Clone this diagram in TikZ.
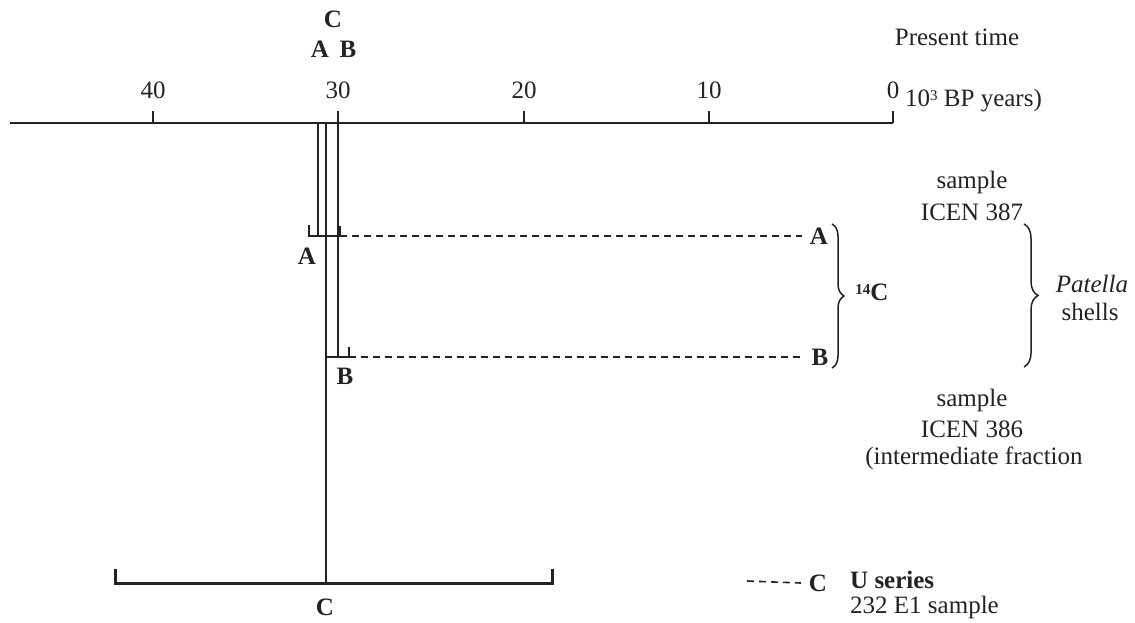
\documentclass[tikz,border=0pt]{standalone}
\usepackage{fontspec}
\setmainfont{Liberation Serif}
\usetikzlibrary{decorations.pathreplacing}
\definecolor{inkc}{RGB}{35,35,35}
\begin{document}
\begin{tikzpicture}[x=1pt,y=-1pt,
  ink/.style={draw=inkc, line width=1.8pt},
  heavy/.style={draw=inkc, line width=3pt},
  dashln/.style={draw=inkc, line width=1.6pt, dash pattern=on 7pt off 5pt},
  lbl/.style={text=inkc, font=\fontsize{25}{30}\selectfont, inner sep=0pt},
  blbl/.style={text=inkc, font=\fontsize{25}{30}\selectfont\bfseries, inner sep=0pt},
  ilbl/.style={text=inkc, font=\fontsize{25}{30}\selectfont\itshape, inner sep=0pt},
  bracestyle/.style={draw=inkc, line width=1.5pt, decorate, decoration={brace, amplitude=#1}},
  ]
\useasboundingbox[fill=white] (0,0) rectangle (1135,623);

% time axis
\coordinate (axL) at (10,123);
\coordinate (axR) at (893,123);
\draw[ink] (axL) -- (axR);
\foreach \v/\x in {40/153,30/338,20/524,10/709,0/893}{
  \coordinate (t\v) at (\x,123);
  \coordinate (tt\v) at (\x,111);
  \draw[ink] (t\v) -- (tt\v);
  \node[lbl] (n\v) at (\x,90) {\v};
}
\node[lbl, anchor=west] (unit) at (905,101) {10{\fontsize{15}{18}\selectfont\raisebox{6pt}{3}} BP years)};
\node[lbl] (present) at (957,37) {Present time};

% top labels
\node[blbl] (topC) at (333,19) {C};
\node[blbl] (topA) at (320,49) {A};
\node[blbl] (topB) at (348,49) {B};

% vertical lines
\coordinate (aTop) at (318,123);
\coordinate (aBot) at (318,236);
\coordinate (cTop) at (326,123);
\coordinate (cBot) at (326,583);
\coordinate (bTop) at (338,111);
\coordinate (bBot) at (338,357);
\draw[ink] (aTop) -- (aBot);
\draw[ink] (cTop) -- (cBot);
\draw[ink] (bTop) -- (bBot);

% A bracket
\coordinate (aL1) at (309,225);
\coordinate (aL2) at (309,236);
\coordinate (aR2) at (340,236);
\coordinate (aR1) at (340,226);
\draw[ink] (aL1) -- (aL2) -- (aR2) -- (aR1);
\node[blbl] (Al) at (307,256) {A};
\node[blbl] (Ar) at (819,236) {A};
\draw[dashln] (aR2) -- ([xshift=-8pt]Ar.west);

% B bracket
\coordinate (bL2) at (326,357);
\coordinate (bR2) at (349,357);
\coordinate (bR1) at (349,347);
\draw[ink] (bL2) -- (bR2) -- (bR1);
\node[blbl] (Bl) at (345,376) {B};
\node[blbl] (Br) at (820,357) {B};
\draw[dashln] (bR2) -- ([xshift=-8pt]Br.west);

% 14C brace
\coordinate (br1a) at (832,224);
\coordinate (br1b) at (832,368);
\draw[bracestyle=12pt] (br1a) -- (br1b);
\node[blbl] (c14) at (872,292) {{\fontsize{15}{18}\selectfont\raisebox{6pt}{14}}C};

% Patella brace
\coordinate (br2a) at (1024,224);
\coordinate (br2b) at (1024,367);
\draw[bracestyle=14pt] (br2a) -- (br2b);
\node[ilbl] (pat) at (1092,284) {Patella};
\node[lbl] (shl) at (1090,312) {shells};

% sample texts
\node[lbl] (s1a) at (972,182) {sample};
\node[lbl] (s1b) at (972,212) {ICEN 387};
\node[lbl] (s2a) at (972,400) {sample};
\node[lbl] (s2b) at (972,429) {ICEN 386};
\node[lbl] (s2c) at (974,458) {(intermediate fraction};

% C bracket
\coordinate (cL1) at (115,569);
\coordinate (cL2) at (115,583);
\coordinate (cR2) at (552,583);
\coordinate (cR1) at (552,569);
\draw[heavy] (cL1) -- (cL2) -- (cR2) -- (cR1);
\node[blbl] (Cl) at (325,607) {C};
\node[blbl] (Cr) at (818,583) {C};
\coordinate (cD) at (747,581);
\draw[dashln] (cD) -- ([xshift=-8pt]Cr.west);
\node[blbl, anchor=west] (us) at (850,580) {U series};
\node[lbl, anchor=west] (e1) at (850,607) {232 E1 sample};
\end{tikzpicture}
\end{document}
